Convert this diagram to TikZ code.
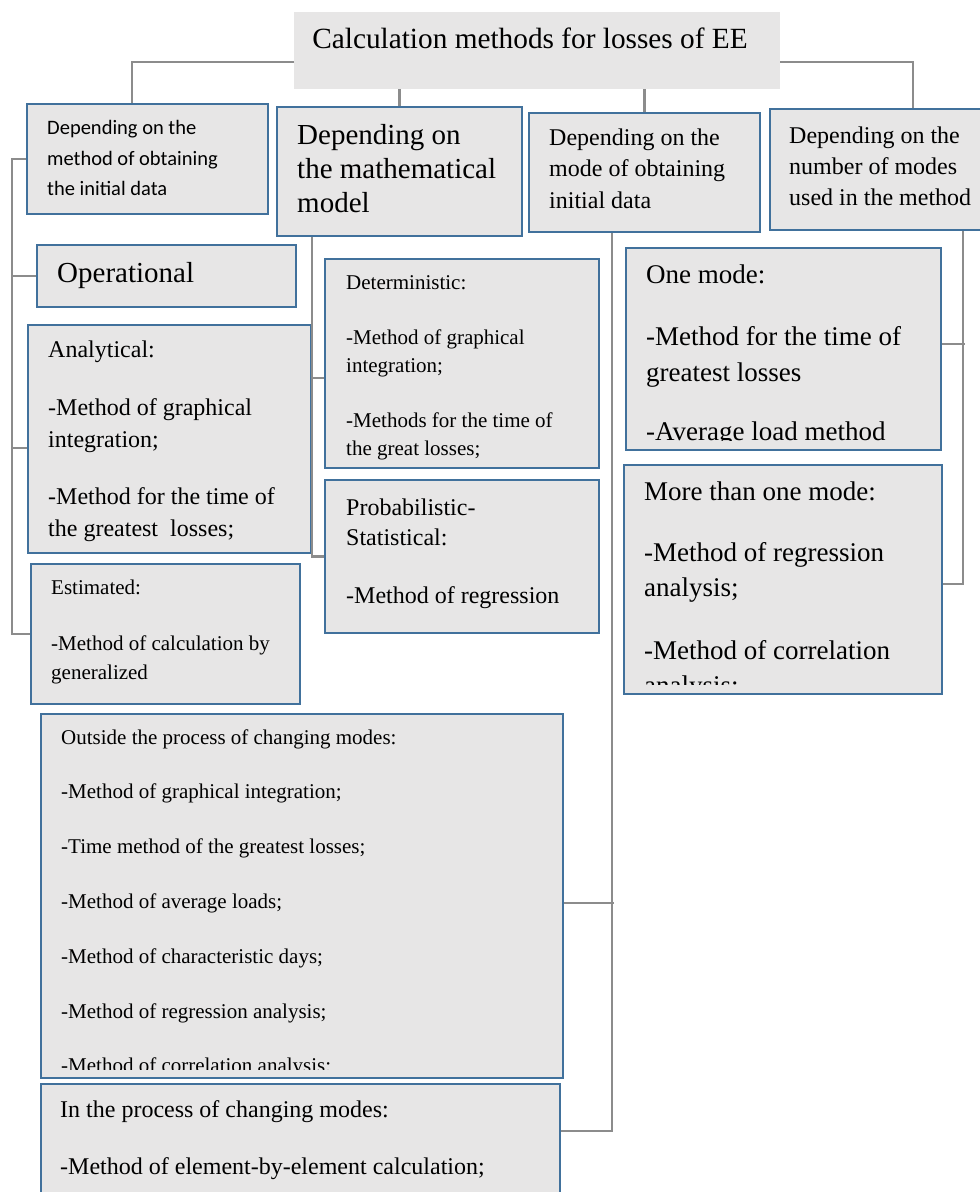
\documentclass[tikz,border=0pt]{standalone}
\usepackage{fontspec}
\setmainfont{Liberation Serif}
\newfontfamily\calibrifont{Carlito}

\definecolor{boxfill}{HTML}{E7E6E6}
\definecolor{boxline}{HTML}{41719C}
\definecolor{linkgray}{HTML}{8C8C8C}

\tikzset{
    mbox/.style={draw=boxline, line width=2pt, fill=boxfill, anchor=north west, inner sep=0pt},
    mtext/.style={anchor=base west, align=left, inner sep=0pt},
    link/.style={draw=linkgray, line width=2.2pt},
}

\begin{document}
\begin{tikzpicture}[x=1pt, y=-1pt]

    \useasboundingbox (0,0) rectangle (980,1192);

    % boxes
    \node[fill=boxfill, anchor=north west, minimum width=486pt, minimum height=77pt] (title) at (294,12) {};
    \begin{scope}[every node/.style={mbox}]
        \node[minimum width=241pt, minimum height=110pt] (dep1) at (26,103) {};
        \node[minimum width=245pt, minimum height=129pt] (dep2) at (276,106) {};
        \node[minimum width=231pt, minimum height=119pt] (dep3) at (528,112) {};
        \node[minimum width=215pt, minimum height=121pt] (dep4) at (769,108) {};

        \node[minimum width=259pt, minimum height=62pt] (oper) at (36,244) {};
        \node[minimum width=283pt, minimum height=228pt] (analyt) at (27,324) {};
        \node[minimum width=269pt, minimum height=140pt] (estim) at (30,563) {};

        \node[minimum width=274pt, minimum height=209pt] (determ) at (324,258) {};
        \node[minimum width=274pt, minimum height=153pt] (prob) at (324,479) {};

        \node[minimum width=315pt, minimum height=202pt] (onemode) at (625,247) {};
        \node[minimum width=318pt, minimum height=229pt] (moremode) at (623,464) {};

        \node[minimum width=522pt, minimum height=364pt] (outside) at (40,713) {};
        \node[minimum width=519pt, minimum height=120pt] (inproc) at (40,1083) {};
    \end{scope}

    % texts (placed at the baseline of their last line)
    \node[anchor=base, inner sep=0pt, font=\fontsize{29.3}{33}\selectfont] (titletxt) at (530,48) {Calculation methods for losses of EE};

    \begin{scope}[every node/.style={mtext}]
        \node[font=\calibrifont\fontsize{20.5}{30.5}\selectfont] (dep1txt) at (47,195.5)
            {Depending on the\\method of obtaining\\the initial data};
        \node[font=\fontsize{29}{34}\selectfont] (dep2txt) at (297,212)
            {Depending on\\the mathematical\\model};
        \node[font=\fontsize{24}{31.5}\selectfont] (dep3txt) at (549,208)
            {Depending on the\\mode of obtaining\\initial data};
        \node[font=\fontsize{24}{31}\selectfont] (dep4txt) at (789,205)
            {Depending on the\\number of modes\\used in the method};

        \node[font=\fontsize{29}{34}\selectfont] (opertxt) at (57,282) {Operational};
        \node[font=\fontsize{24}{32}\selectfont] (analyttxt) at (48,536)
            {Analytical:\\[26pt]-Method of graphical\\integration;\\[25pt]-Method for the time of\\the greatest\ \ losses;};
        \node[font=\fontsize{21}{29}\selectfont] (estimtxt) at (51,679)
            {Estimated:\\[27pt]-Method of calculation by\\generalized};
        \node[font=\fontsize{24}{30}\selectfont] (probtxt) at (346,603)
            {Probabilistic-\\Statistical:\\[28pt]-Method of regression};
        \node[font=\fontsize{24}{57}\selectfont] (inproctxt) at (60,1174)
            {In the process of changing modes:\\-Method of element-by-element calculation;};
    \end{scope}

    % texts cut off at the bottom of their boxes
    \begin{scope}
        \clip (determ.north west) rectangle ([yshift=10pt]determ.south east);
        \node[mtext, font=\fontsize{21}{28}\selectfont] (determtxt) at (346,455)
            {Deterministic:\\[27pt]-Method of graphical\\integration;\\[27pt]-Methods for the time of\\the great losses;};
    \end{scope}
    \begin{scope}
        \clip (onemode.north west) rectangle ([yshift=11pt]onemode.south east);
        \node[mtext, font=\fontsize{27}{36}\selectfont] (onemodetxt) at (646,440)
            {One mode:\\[26pt]-Method for the time of\\greatest losses\\[23pt]-Average load method};
    \end{scope}
    \begin{scope}
        \clip (moremode.north west) rectangle ([yshift=11pt]moremode.south east);
        \node[mtext, font=\fontsize{27}{35}\selectfont] (moremodetxt) at (644,694)
            {More than one mode:\\[26pt]-Method of regression\\analysis;\\[28pt]-Method of correlation\\analysis;};
    \end{scope}
    \begin{scope}
        \clip (outside.north west) rectangle ([yshift=10pt]outside.south east);
        \node[mtext, font=\fontsize{21}{54.8}\selectfont] (outsidetxt) at (61,1072.8)
            {Outside the process of changing modes:\\-Method of graphical integration;\\-Time method of the greatest losses;\\-Method of average loads;\\-Method of characteristic days;\\-Method of regression analysis;\\-Method of correlation analysis;};
    \end{scope}

    % connectors
    \coordinate (lspine) at (12,0);
    \coordinate (mspine) at (312,0);
    \coordinate (cspine) at (612,0);
    \coordinate (rspine) at (963,0);

    \draw[link] ([yshift=-11.5pt]title.west) -| ([xshift=-15.5pt]dep1.north);
    \draw[link] ([yshift=-11.5pt]title.east) -| ([xshift=35.5pt]dep4.north);
    \draw[link] (dep2.north |- title.south) -- (dep2.north);
    \draw[link] (dep3.north |- title.south) -- (dep3.north);

    \draw[link] (dep1.west) -| (lspine |- estim.west) -- (estim.west);
    \draw[link] (oper.west) -- (oper.west -| lspine);
    \draw[link] ([yshift=-9pt]analyt.west) -- +(-15pt,0);

    \draw[link] (dep2.south -| mspine) |- (prob.west);
    \draw[link] ([yshift=-14.5pt]determ.west) -- +(-12pt,0);

    \draw[link] (dep3.south -| cspine) |- ([yshift=13pt]inproc.east);
    \draw[link] ([yshift=-7pt]outside.east) -- +(50pt,0);

    \draw[link] (dep4.south -| rspine) |- ([yshift=-4.5pt]moremode.east);
    \draw[link] ([yshift=5pt]onemode.east) -- +(23pt,0);

\end{tikzpicture}
\end{document}
